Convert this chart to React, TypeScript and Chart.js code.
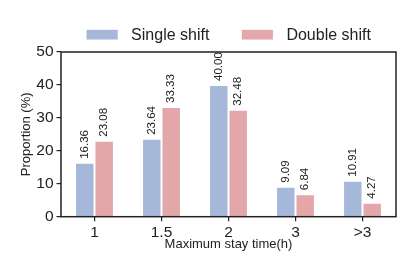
import React, { useEffect, useRef } from 'react';
import { Chart, registerables } from 'chart.js';

Chart.register(...registerables);

const categories = ['1', '1.5', '2', '3', '>3'];
const seriesNames = ['Single shift', 'Double shift'];
const singleShift = [16.36, 23.64, 40.0, 9.09, 10.91];
const doubleShift = [23.08, 33.33, 32.48, 6.84, 4.27];
const yMin = 0;
const yMax = 50;
const yStep = 10;
const seriesColors = ['#a5b8d9', '#e3a6a9'];

const FONT = '"Liberation Sans", Arial, Helvetica, sans-serif';
const INK = '#222222';

const framePlugin = {
  id: 'frame',
  afterDatasetsDraw(chart: any) {
    const { ctx, chartArea: a } = chart;
    ctx.save();
    ctx.strokeStyle = INK;
    ctx.lineWidth = 1.5;
    ctx.strokeRect(a.left, a.top, a.right - a.left, a.bottom - a.top);
    ctx.restore();
  },
};

const valueLabelPlugin = {
  id: 'valueLabels',
  afterDatasetsDraw(chart: any) {
    const { ctx } = chart;
    ctx.save();
    ctx.font = `11.5px ${FONT}`;
    ctx.fillStyle = INK;
    ctx.textAlign = 'left';
    ctx.textBaseline = 'middle';
    chart.data.datasets.forEach((ds: any, di: number) => {
      const meta = chart.getDatasetMeta(di);
      meta.data.forEach((el: any, i: number) => {
        const v = ds.data[i] as number;
        ctx.save();
        ctx.translate(el.x, el.y - 4);
        ctx.rotate(-Math.PI / 2);
        ctx.fillText(v.toFixed(2), 0, 0);
        ctx.restore();
      });
    });
    ctx.restore();
  },
};

const topLegendPlugin = {
  id: 'topLegend',
  afterDraw(chart: any) {
    const { ctx, chartArea: a } = chart;
    ctx.save();
    ctx.font = `16px ${FONT}`;
    const boxW = 32;
    const boxH = 10.5;
    const gapBoxText = 13;
    const gapItems = 32;
    const items = chart.data.datasets.map((ds: any) => ({
      label: ds.label as string,
      color: ds.backgroundColor as string,
      w: ctx.measureText(ds.label).width,
    }));
    const total =
      items.reduce((s: number, it: any) => s + boxW + gapBoxText + it.w, 0) +
      gapItems * (items.length - 1);
    let x = (a.left + a.right) / 2 - total / 2;
    const cy = 34.7;
    items.forEach((it: any) => {
      ctx.fillStyle = it.color;
      ctx.fillRect(x, cy - boxH / 2, boxW, boxH);
      ctx.strokeStyle = 'rgba(255,255,255,0.8)';
      ctx.lineWidth = 1;
      ctx.strokeRect(x, cy - boxH / 2, boxW, boxH);
      ctx.fillStyle = INK;
      ctx.textAlign = 'left';
      ctx.textBaseline = 'middle';
      ctx.fillText(it.label, x + boxW + gapBoxText, cy + 0.5);
      x += boxW + gapBoxText + it.w + gapItems;
    });
    ctx.restore();
  },
};

export default function App() {
  const canvasRef = useRef<HTMLCanvasElement | null>(null);

  useEffect(() => {
    if (!canvasRef.current) return;
    const chart = new Chart(canvasRef.current, {
      type: 'bar',
      data: {
        labels: categories,
        datasets: [
          {
            label: seriesNames[0],
            data: singleShift,
            backgroundColor: seriesColors[0],
            borderColor: 'rgba(255,255,255,0.75)',
            borderWidth: 1,
          },
          {
            label: seriesNames[1],
            data: doubleShift,
            backgroundColor: seriesColors[1],
            borderColor: 'rgba(255,255,255,0.75)',
            borderWidth: 1,
          },
        ],
      },
      options: {
        responsive: false,
        animation: false,
        devicePixelRatio: 1,
        layout: { padding: { top: 52, right: 19, left: 0, bottom: 0 } },
        datasets: {
          bar: { categoryPercentage: 0.58, barPercentage: 1 },
        },
        plugins: {
          legend: { display: false },
          tooltip: { enabled: false },
          title: { display: false },
        },
        scales: {
          x: {
            type: 'category',
            offset: true,
            border: { display: false },
            grid: {
              display: true,
              drawOnChartArea: false,
              drawTicks: true,
              tickLength: 4.5,
              color: INK,
              lineWidth: 1.2,
              offset: false,
            },
            ticks: {
              font: { family: FONT, size: 15.5 },
              color: INK,
              padding: 2,
              maxRotation: 0,
              autoSkip: false,
            },
            title: {
              display: true,
              text: 'Maximum stay time(h)',
              font: { family: FONT, size: 13 },
              color: INK,
              padding: { top: 0, bottom: 25 },
            },
            afterFit(scale: any) {
              scale.height = 60.3;
            },
          },
          y: {
            min: yMin,
            max: yMax,
            border: { display: false },
            grid: {
              display: true,
              drawOnChartArea: false,
              drawTicks: true,
              tickLength: 4.5,
              color: INK,
              lineWidth: 1.2,
            },
            ticks: {
              stepSize: yStep,
              font: { family: FONT, size: 15.5 },
              color: INK,
              padding: 3,
            },
            title: {
              display: true,
              text: 'Proportion (%)',
              font: { family: FONT, size: 13 },
              color: INK,
              padding: { top: 19, bottom: 0 },
            },
            afterFit(scale: any) {
              scale.width = 61;
            },
          },
        },
      },
      plugins: [framePlugin, valueLabelPlugin, topLegendPlugin],
    } as any);
    return () => chart.destroy();
  }, []);

  return (
    <div
      style={{
        position: 'absolute',
        left: 0,
        top: 0,
        width: 415,
        height: 277,
        background: '#ffffff',
      }}
    >
      <canvas ref={canvasRef} width={415} height={277} style={{ width: 415, height: 277 }} />
    </div>
  );
}
